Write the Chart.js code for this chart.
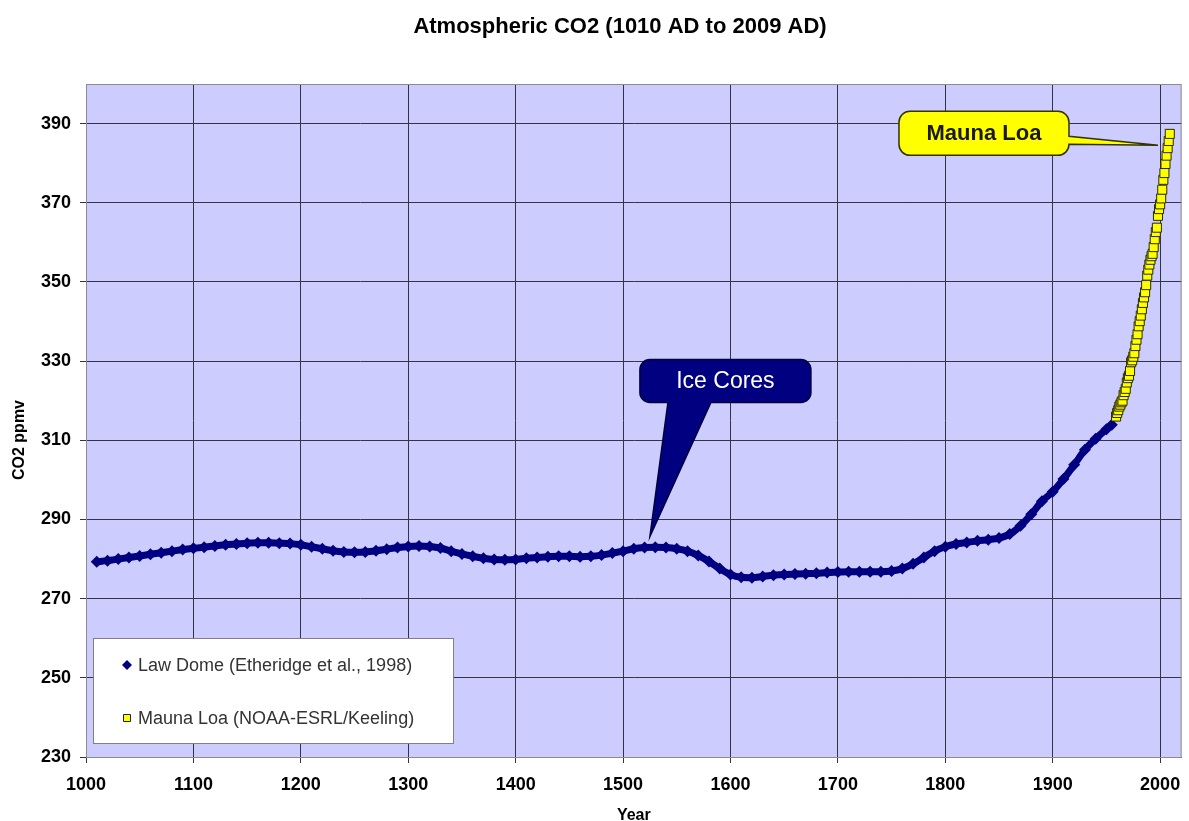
<!DOCTYPE html>
<html>
<head>
<meta charset="utf-8">
<title>Atmospheric CO2 (1010 AD to 2009 AD)</title>
<script src="https://cdn.jsdelivr.net/npm/chart.js@4.4.1/dist/chart.umd.min.js"></script>
<style>
body { margin: 0; background: #fff; }
#wrap { width: 1189px; height: 821px; position: relative; }
</style>
</head>
<body>
<div id="wrap"><canvas id="co2_canvas"></canvas></div>
<script>
// Law Dome ice core record (ppmv)
var lawYears = [1010,1020,1030,1040,1050,1060,1070,1080,1090,1100,
  1110,1120,1130,1140,1150,1160,1170,1180,1190,1200,
  1210,1220,1230,1240,1250,1260,1270,1280,1290,1300,
  1310,1320,1330,1340,1350,1360,1370,1380,1390,1400,
  1410,1420,1430,1440,1450,1460,1470,1480,1490,1500,
  1510,1520,1530,1540,1550,1560,1570,1580,1590,1600,
  1610,1620,1630,1640,1650,1660,1670,1680,1690,1700,
  1710,1720,1730,1740,1750,1760,1770,1780,1790,1800,
  1810,1820,1830,1840,1850,1860,1870,1880,1890,1900,
  1910,1920,1930,1940,1950,1955];
var lawCO2 = [279.3,279.6,280.0,280.4,280.8,281.2,281.6,282.0,282.4,282.7,
  283.0,283.3,283.6,283.8,284.0,284.1,284.1,284.0,283.9,283.6,
  283.1,282.6,282.1,281.8,281.7,281.8,282.1,282.5,282.9,283.2,
  283.3,283.2,282.8,282.0,281.3,280.7,280.2,279.9,279.8,279.9,
  280.2,280.4,280.6,280.7,280.7,280.6,280.7,281.0,281.5,282.0,
  282.6,282.9,283.0,282.9,282.6,282.0,280.9,279.4,277.6,276.1,
  275.4,275.3,275.6,275.9,276.1,276.2,276.3,276.4,276.6,276.7,
  276.8,276.8,276.8,276.8,277.0,277.6,278.8,280.4,282.0,283.1,
  283.8,284.2,284.6,284.9,285.3,286.3,288.4,291.3,294.6,297.0,
  300.2,303.8,307.6,310.4,312.8,313.9];

// Mauna Loa annual means (ppmv)
var mloYears = [1959,1960,1961,1962,1963,1964,1965,1966,1967,1968,
  1969,1970,1971,1972,1973,1974,1975,1976,1977,1978,
  1979,1980,1981,1982,1983,1984,1985,1986,1987,1988,
  1989,1990,1991,1992,1993,1994,1995,1996,1997,1998,
  1999,2000,2001,2002,2003,2004,2005,2006,2007,2008,2009];
var mloCO2 = [316.0,316.9,317.6,318.5,319.0,319.6,320.0,321.4,322.2,323.0,
  324.6,325.7,326.3,327.5,329.7,330.2,331.1,332.0,333.8,335.4,
  336.8,338.8,340.1,341.5,343.1,344.7,346.1,347.4,349.2,351.6,
  353.1,354.4,355.6,356.5,357.1,358.8,360.8,362.6,363.7,366.7,
  368.4,369.6,371.1,373.3,375.8,377.5,379.8,381.9,383.8,385.6,387.4];

var xTicks = [1000,1100,1200,1300,1400,1500,1600,1700,1800,1900,2000];
var yTicks = [230,250,270,290,310,330,350,370,390];

var seriesNames = ['Law Dome (Etheridge et al., 1998)', 'Mauna Loa (NOAA-ESRL/Keeling)'];
var chartTitle = 'Atmospheric CO2 (1010 AD to 2009 AD)';
var yTitle = 'CO2 ppmv';

var FONT = '"Liberation Sans", Arial, sans-serif';
Chart.defaults.font.family = FONT;
Chart.defaults.color = '#000';

function toPoints(xs, ys) {
  return xs.map(function (x, i) { return {x: x, y: ys[i]}; });
}

// callout labels, anchored on data values
var callouts = [
  {text: 'Ice Cores', year: 1525, ppm: 285.7, dx: -10, dy: -177, w: 171, h: 43, r: 10,
   tail: {side: 'bottom', a: 28, b: 71}, fill: '#000080', stroke: '#00003c',
   color: '#ffffff', font: '23px ' + FONT},
  {text: 'Mauna Loa', year: 1998, ppm: 384.5, dx: -259, dy: -34, w: 170, h: 44, r: 11,
   tail: {side: 'right', a: 25, b: 33}, fill: '#ffff00', stroke: '#333300',
   color: '#1a1a1a', font: 'bold 22px ' + FONT}
];

function calloutPath(ctx, bx, by, w, h, r, tail, tip) {
  ctx.beginPath();
  ctx.moveTo(bx + r, by);
  ctx.lineTo(bx + w - r, by);
  ctx.arcTo(bx + w, by, bx + w, by + r, r);
  if (tail.side === 'right') {
    ctx.lineTo(bx + w, by + tail.a);
    ctx.lineTo(tip.x, tip.y);
    ctx.lineTo(bx + w, by + tail.b);
  }
  ctx.lineTo(bx + w, by + h - r);
  ctx.arcTo(bx + w, by + h, bx + w - r, by + h, r);
  if (tail.side === 'bottom') {
    ctx.lineTo(bx + tail.b, by + h);
    ctx.lineTo(tip.x, tip.y);
    ctx.lineTo(bx + tail.a, by + h);
  }
  ctx.lineTo(bx + r, by + h);
  ctx.arcTo(bx, by + h, bx, by + h - r, r);
  ctx.lineTo(bx, by + r);
  ctx.arcTo(bx, by, bx + r, by, r);
  ctx.closePath();
}

var plotBackground = {
  id: 'plotBackground',
  beforeDraw: function (chart) {
    var ca = chart.chartArea, ctx = chart.ctx;
    ctx.save();
    ctx.fillStyle = '#ccccff';
    ctx.fillRect(ca.left, ca.top, ca.right - ca.left, ca.bottom - ca.top);
    ctx.restore();
  },
  beforeDatasetsDraw: function (chart) {
    var ca = chart.chartArea, ctx = chart.ctx;
    ctx.save();
    ctx.strokeStyle = '#8c8c8c';
    ctx.lineWidth = 1;
    ctx.strokeRect(ca.left + 0.5, ca.top + 0.5, ca.right - ca.left - 1, ca.bottom - ca.top);
    ctx.restore();
  }
};

var calloutPlugin = {
  id: 'callouts',
  afterDatasetsDraw: function (chart) {
    var ctx = chart.ctx, xs = chart.scales.x, ys = chart.scales.y;
    callouts.forEach(function (c) {
      var tip = {x: xs.getPixelForValue(c.year), y: ys.getPixelForValue(c.ppm)};
      var bx = tip.x + c.dx, by = tip.y + c.dy;
      ctx.save();
      calloutPath(ctx, bx, by, c.w, c.h, c.r, c.tail, tip);
      ctx.fillStyle = c.fill;
      ctx.fill();
      ctx.lineWidth = 1.5;
      ctx.strokeStyle = c.stroke;
      ctx.stroke();
      ctx.fillStyle = c.color;
      ctx.font = c.font;
      ctx.textAlign = 'center';
      ctx.textBaseline = 'middle';
      ctx.fillText(c.text, bx + c.w / 2, by + c.h / 2 + 1);
      ctx.restore();
    });
  }
};

var legendBox = {
  id: 'legendBox',
  afterDraw: function (chart) {
    var ctx = chart.ctx, ca = chart.chartArea;
    var w = 360, h = 105;
    var lx = ca.left + 7, ly = ca.bottom - 14 - h;
    ctx.save();
    ctx.fillStyle = '#ffffff';
    ctx.fillRect(lx, ly, w, h);
    ctx.strokeStyle = '#808080';
    ctx.lineWidth = 1;
    ctx.strokeRect(lx + 0.5, ly + 0.5, w, h);
    ctx.font = '18px ' + FONT;
    ctx.textBaseline = 'middle';
    ctx.textAlign = 'left';
    chart.data.datasets.forEach(function (ds, i) {
      var cy = ly + 27 + i * 53, cx = lx + 34;
      ctx.beginPath();
      if (ds.pointStyle === 'rectRot') {
        ctx.moveTo(cx, cy - 5); ctx.lineTo(cx + 5, cy); ctx.lineTo(cx, cy + 5); ctx.lineTo(cx - 5, cy);
        ctx.closePath();
        ctx.fillStyle = ds.pointBackgroundColor;
        ctx.fill();
      } else {
        ctx.rect(cx - 3.5, cy - 3.5, 7, 7);
        ctx.fillStyle = ds.pointBackgroundColor;
        ctx.fill();
        ctx.strokeStyle = '#222';
        ctx.stroke();
      }
      ctx.fillStyle = '#333333';
      ctx.fillText(ds.label, lx + 45, cy + 1);
    });
    ctx.restore();
  }
};

var titleText = {
  id: 'titleText',
  afterDraw: function (chart) {
    var ctx = chart.ctx;
    ctx.save();
    ctx.font = 'bold 22px ' + FONT;
    ctx.fillStyle = '#000';
    ctx.textAlign = 'center';
    ctx.textBaseline = 'middle';
    ctx.fillText(chartTitle, 620, 27);
    // y axis title sits a little below the middle of the axis
    ctx.font = 'bold 16px ' + FONT;
    ctx.translate(20, 440);
    ctx.rotate(-Math.PI / 2);
    ctx.fillText(yTitle, 0, 0);
    ctx.restore();
  }
};

var ctx = document.getElementById('co2_canvas').getContext('2d');
var myChart = new Chart(ctx, {
  type: 'scatter',
  data: {
    datasets: [
      {
        label: seriesNames[0],
        data: toPoints(lawYears, lawCO2),
        showLine: true,
        cubicInterpolationMode: 'monotone',
        borderColor: '#000080',
        borderWidth: 7,
        pointStyle: 'rectRot',
        pointRadius: 6,
        pointBorderWidth: 0,
        pointBackgroundColor: '#000080',
        order: 1
      },
      {
        label: seriesNames[1],
        data: toPoints(mloYears, mloCO2),
        showLine: false,
        pointStyle: 'rect',
        pointRadius: 6.4,
        pointBorderWidth: 1,
        pointBorderColor: '#2a2a00',
        pointBackgroundColor: '#ffff00',
        order: 0
      }
    ]
  },
  options: {
    responsive: true,
    maintainAspectRatio: false,
    animation: false,
    layout: {padding: {top: 84, right: 4, left: 0, bottom: 0}},
    plugins: {
      legend: {display: false},
      tooltip: {enabled: false},
      title: {display: false}
    },
    scales: {
      x: {
        type: 'linear',
        min: 1000,
        max: 2020,
        afterBuildTicks: function (scale) {
          scale.ticks = xTicks.map(function (v) { return {value: v}; });
        },
        afterFit: function (scale) {
          scale.height = 64;
          scale.paddingLeft = 0;
          scale.paddingRight = 0;
        },
        grid: {color: '#333344', tickColor: '#333344', tickLength: 6, lineWidth: 1},
        border: {color: '#555555'},
        ticks: {font: {size: 18, weight: 'bold'}, padding: 11, maxRotation: 0,
          callback: function (v) { return String(v); }},
        title: {display: true, text: 'Year', font: {size: 16, weight: 'bold', lineHeight: 0.8},
          padding: {top: 0, bottom: -1}}
      },
      y: {
        min: 230,
        max: 400,
        afterBuildTicks: function (scale) {
          scale.ticks = yTicks.map(function (v) { return {value: v}; });
        },
        afterFit: function (scale) {
          scale.width = 86;
        },
        grid: {color: '#333344', tickColor: '#333344', tickLength: 6, lineWidth: 1},
        border: {color: '#555555'},
        ticks: {font: {size: 18, weight: 'bold'}, padding: 9}
      }
    }
  },
  plugins: [plotBackground, calloutPlugin, legendBox, titleText]
});
</script>
</body>
</html>
